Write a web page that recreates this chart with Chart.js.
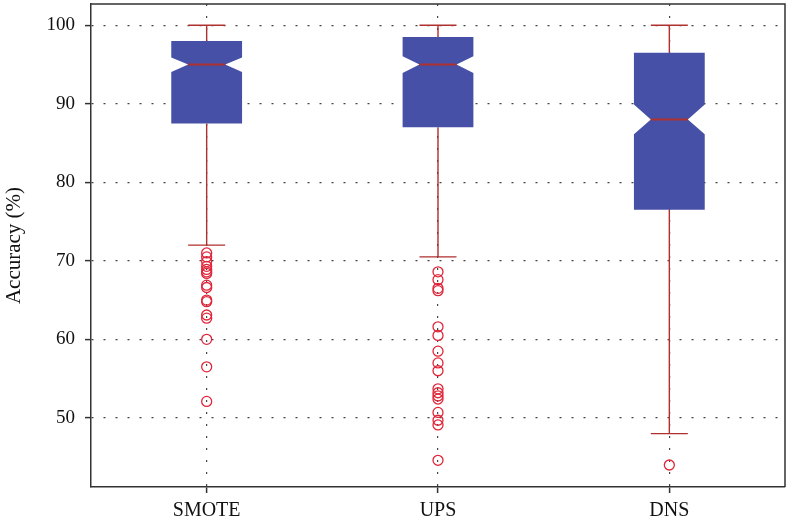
<!DOCTYPE html>
<html>
<head>
<meta charset="utf-8">
<script src="https://cdn.jsdelivr.net/npm/chart.js@4"></script>
<style>
  html, body { margin: 0; padding: 0; background: #fff; }
  #wrap { width: 786px; height: 523px; }
</style>
</head>
<body>
<div id="wrap"><canvas id="c" width="786" height="523"></canvas></div>
<script>
// Resampling methods compared
const categories = ['SMOTE', 'UPS', 'DNS'];

// Box statistics per method (accuracy, %)
const whiskerLow  = [72.0, 70.5, 48.0];
const q1          = [87.5, 87.0, 76.5];
const median      = [95.0, 95.0, 88.0];
const q3          = [98.0, 98.5, 96.5];
const whiskerHigh = [100.0, 100.0, 100.0];
const notchLow    = [94.05, 93.9, 86.1];
const notchHigh   = [95.9, 96.05, 89.9];

// Outlying runs per method
const outliersSMOTE = [71.0, 70.5, 69.9, 69.3, 68.9, 68.6, 68.4, 66.9, 66.6, 65.0, 64.8, 63.1, 62.7, 60.0, 56.5, 52.1];
const outliersUPS   = [68.6, 67.6, 66.5, 66.2, 61.6, 60.5, 58.5, 57.0, 56.0, 53.7, 53.2, 52.8, 52.4, 50.7, 49.7, 49.1, 44.6];
const outliersDNS   = [44.0];

// Axis
const yTicks = [50, 60, 70, 80, 90, 100];
const yMin = 41.2;
const yMax = 102.7;

const outlierPoints = [];
[outliersSMOTE, outliersUPS, outliersDNS].forEach((list, i) => {
  list.forEach(v => outlierPoints.push({ x: categories[i], y: v }));
});

const FONT = 'Liberation Serif';
const BOX_FILL = '#4650a6';
const WHISKER = '#b0302e';
const OUTLIER = '#e0263a';
const GRID = '#444';

// Draws the notched boxes, medians and whiskers on the chart's scales
const notchedBoxes = {
  id: 'notchedBoxes',
  beforeDatasetsDraw(chart) {
    const { ctx, scales: { x, y } } = chart;
    const band = x.getPixelForValue(1) - x.getPixelForValue(0);
    const halfBox = band * 0.153;
    const halfNarrow = band * 0.08;
    const halfCap = band * 0.08;
    ctx.save();
    categories.forEach((c, i) => {
      const cx = x.getPixelForValue(i);
      const yQ1 = y.getPixelForValue(q1[i]);
      const yQ3 = y.getPixelForValue(q3[i]);
      const yMed = y.getPixelForValue(median[i]);
      const yNL = y.getPixelForValue(notchLow[i]);
      const yNH = y.getPixelForValue(notchHigh[i]);
      const yLo = y.getPixelForValue(whiskerLow[i]);
      const yHi = y.getPixelForValue(whiskerHigh[i]);

      // whiskers
      ctx.strokeStyle = WHISKER;
      ctx.lineWidth = 1.4;
      ctx.beginPath();
      ctx.moveTo(cx, yQ3); ctx.lineTo(cx, yHi);
      ctx.moveTo(cx - halfCap, yHi); ctx.lineTo(cx + halfCap, yHi);
      ctx.moveTo(cx, yQ1); ctx.lineTo(cx, yLo);
      ctx.moveTo(cx - halfCap, yLo); ctx.lineTo(cx + halfCap, yLo);
      ctx.stroke();

      // notched box
      ctx.fillStyle = BOX_FILL;
      ctx.beginPath();
      ctx.moveTo(cx - halfBox, yQ3);
      ctx.lineTo(cx + halfBox, yQ3);
      ctx.lineTo(cx + halfBox, yNH);
      ctx.lineTo(cx + halfNarrow, yMed);
      ctx.lineTo(cx + halfBox, yNL);
      ctx.lineTo(cx + halfBox, yQ1);
      ctx.lineTo(cx - halfBox, yQ1);
      ctx.lineTo(cx - halfBox, yNL);
      ctx.lineTo(cx - halfNarrow, yMed);
      ctx.lineTo(cx - halfBox, yNH);
      ctx.closePath();
      ctx.fill();

      // median
      ctx.strokeStyle = WHISKER;
      ctx.lineWidth = 2;
      ctx.beginPath();
      ctx.moveTo(cx - halfNarrow, yMed);
      ctx.lineTo(cx + halfNarrow, yMed);
      ctx.stroke();
    });
    ctx.restore();
  },
  afterDraw(chart) {
    const { ctx, chartArea: a } = chart;
    ctx.save();
    ctx.strokeStyle = '#333';
    ctx.lineWidth = 1.5;
    ctx.beginPath();
    ctx.moveTo(a.left, a.top);
    ctx.lineTo(a.right, a.top);
    ctx.lineTo(a.right, a.bottom);
    ctx.stroke();
    ctx.restore();
  }
};

new Chart(document.getElementById('c'), {
  type: 'scatter',
  data: {
    labels: categories,
    datasets: [{
      data: outlierPoints,
      pointStyle: 'circle',
      pointRadius: 5,
      pointHoverRadius: 5,
      borderColor: OUTLIER,
      backgroundColor: 'rgba(0,0,0,0)',
      pointBorderWidth: 1.3,
      showLine: false
    }]
  },
  options: {
    responsive: false,
    animation: false,
    events: [],
    layout: { autoPadding: false, padding: { top: 4, right: 1, left: 0, bottom: 0 } },
    plugins: { legend: { display: false }, tooltip: { enabled: false } },
    scales: {
      x: {
        type: 'category',
        labels: categories,
        offset: true,
        afterFit(scale) {
          scale.height = 36;
          scale.paddingLeft = 0;
          scale.paddingRight = 0;
        },
        grid: {
          offset: false,
          color: GRID,
          lineWidth: 1.2,
          tickLength: 6,
          tickColor: '#333',
          tickWidth: 1.5,
          tickBorderDash: []
        },
        border: { display: true, color: '#333', width: 1.5, dash: [2, 10] },
        ticks: {
          padding: 6,
          color: '#111',
          font: { family: FONT, size: 20 }
        }
      },
      y: {
        type: 'linear',
        min: yMin,
        max: yMax,
        afterBuildTicks(scale) { scale.ticks = yTicks.map(v => ({ value: v })); },
        afterFit(scale) {
          scale.width = 91;
          scale.paddingTop = 0;
          scale.paddingBottom = 0;
        },
        grid: {
          color: GRID,
          lineWidth: 1.2,
          tickLength: 6,
          tickColor: '#333',
          tickWidth: 1.5,
          tickBorderDash: []
        },
        border: { display: true, color: '#333', width: 1.5, dash: [2, 10] },
        ticks: {
          padding: 10,
          color: '#111',
          font: { family: FONT, size: 19 }
        },
        title: {
          display: true,
          text: 'Accuracy (%)',
          color: '#111',
          font: { family: FONT, size: 21 },
          padding: { top: 2, bottom: 0 }
        }
      }
    }
  },
  plugins: [notchedBoxes]
});
</script>
</body>
</html>
